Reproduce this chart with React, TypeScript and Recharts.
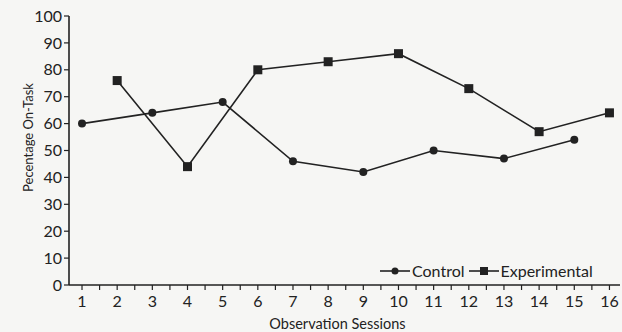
import { Line, LineChart, XAxis, YAxis } from "recharts";

document.body.style.margin = "0";

const sessions = [1, 2, 3, 4, 5, 6, 7, 8, 9, 10, 11, 12, 13, 14, 15, 16];
const control = [60, null, 64, null, 68, null, 46, null, 42, null, 50, null, 47, null, 54, null];
const experimental = [null, 76, null, 44, null, 80, null, 83, null, 86, null, 73, null, 57, null, 64];
const yTicks = [0, 10, 20, 30, 40, 50, 60, 70, 80, 90, 100];
const xTicks = sessions.flatMap((s) => [s, s + 0.5]).filter((t) => t <= 16);

const data = sessions.map((s, i) => ({
  session: s,
  control: control[i],
  experimental: experimental[i],
}));

const INK = "#222";
const FONT = "Lato, 'Open Sans', sans-serif";

// only whole sessions get a label, half ticks just get the mark
function XTick(props: any) {
  const { x, y, payload } = props;
  if (!Number.isInteger(payload.value)) return <g />;
  return (
    <text x={x} y={y + 15} textAnchor="middle" fill={INK} fontSize={16} fontFamily={FONT}>
      {payload.value}
    </text>
  );
}

function SquareDot(props: any) {
  const { cx, cy, value } = props;
  if (value == null || cx == null || cy == null) return null;
  return <rect key={`sq-${cx}`} x={cx - 4.5} y={cy - 4.5} width={9} height={9} fill={INK} />;
}

function CircleDot(props: any) {
  const { cx, cy, value } = props;
  if (value == null || cx == null || cy == null) return null;
  return <circle key={`c-${cx}`} cx={cx} cy={cy} r={4} fill={INK} />;
}

function LegendBox() {
  const item = (label: string, square: boolean) => (
    <span style={{ display: "inline-flex", alignItems: "center", marginRight: 4 }}>
      <svg width={30} height={10} style={{ marginRight: 2 }}>
        <line x1={0} x2={30} y1={5} y2={5} stroke={INK} strokeWidth={1.6} />
        {square ? <rect x={11} y={1} width={8} height={8} fill={INK} /> : <circle cx={15} cy={5} r={3.5} fill={INK} />}
      </svg>
      {label}
    </span>
  );
  return (
    <div
      style={{
        position: "absolute",
        top: 261,
        left: 380,
        fontFamily: FONT,
        fontSize: 16,
        color: INK,
        display: "flex",
        whiteSpace: "nowrap",
      }}
    >
      {item("Control", false)}
      {item("Experimental", true)}
    </div>
  );
}

export default function App() {
  return (
    <div style={{ width: 622, height: 332, background: "#f6f6f4", position: "relative" }}>
      <LineChart width={622} height={332} data={data} margin={{ top: 16, right: 2, bottom: 0, left: 0 }}>
        <XAxis
          dataKey="session"
          type="number"
          domain={[0.63, 16.3]}
          ticks={xTicks}
          interval={0}
          axisLine={{ stroke: INK, strokeWidth: 1.6 }}
          tickLine={{ stroke: INK, strokeWidth: 1.2 }}
          tickSize={5}
          tick={<XTick />}
          height={47}
          label={{ value: "Observation Sessions", position: "insideBottom", offset: 3, dx: -7, fill: INK, fontSize: 14.5, fontFamily: FONT }}
        />
        <YAxis
          domain={[0, 100]}
          ticks={yTicks}
          interval={0}
          width={69}
          axisLine={{ stroke: INK, strokeWidth: 1.6 }}
          tickLine={{ stroke: INK, strokeWidth: 1.2 }}
          tickSize={5}
          tick={{ fill: INK, fontSize: 16, fontFamily: FONT }}
          label={{
            value: "Pecentage On-Task",
            angle: -90,
            position: "insideLeft",
            offset: 28,
            dy: -13,
            style: { textAnchor: "middle" },
            fill: INK,
            fontSize: 13,
            fontFamily: FONT,
          }}
        />
        <Line
          dataKey="control"
          name="Control"
          stroke={INK}
          strokeWidth={1.6}
          connectNulls
          dot={<CircleDot />}
          isAnimationActive={false}
        />
        <Line
          dataKey="experimental"
          name="Experimental"
          stroke={INK}
          strokeWidth={1.6}
          connectNulls
          dot={<SquareDot />}
          isAnimationActive={false}
        />
      </LineChart>
      <LegendBox />
    </div>
  );
}
